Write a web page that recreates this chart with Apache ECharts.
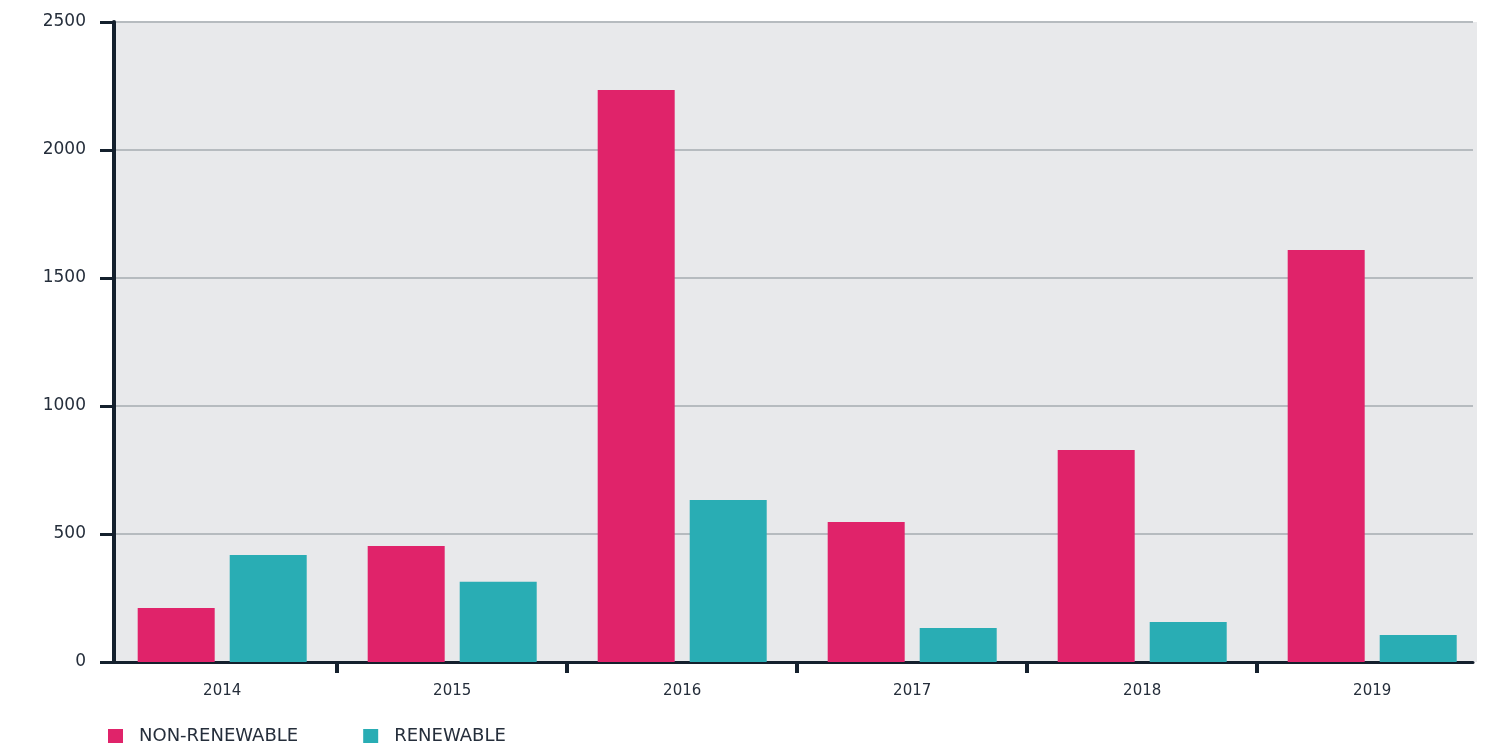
<!DOCTYPE html>
<html>
<head>
<meta charset="utf-8">
<script src="https://cdn.jsdelivr.net/npm/echarts@6/dist/echarts.min.js"></script>
<style>
html,body{margin:0;padding:0;background:#fff;}
#chart{width:1491px;height:749px;}
</style>
</head>
<body>
<div id="chart"></div>
<script>
var years = ['2014', '2015', '2016', '2017', '2018', '2019'];
var nonRenewable = [211, 453, 2234, 547, 828, 1609];
var renewable = [418, 313, 633, 133, 156, 105];
var yMin = 0, yMax = 2500, yStep = 500;
var seriesNames = ['NON-RENEWABLE', 'RENEWABLE'];

var PINK = '#e0236a', TEAL = '#29adb4', DARK = '#14202d', TXT = '#252e3b';
var chart = echarts.init(document.getElementById('chart'));
var nCat = years.length;
var innerBoundaries = [];
for (var i = 1; i < nCat; i++) innerBoundaries.push(i);

chart.setOption({
  animation: false,
  color: [PINK, TEAL],
  textStyle: { fontFamily: 'DejaVu Sans' },
  grid: [
    { left: 116, right: 14, top: 22, bottom: 87, show: true, backgroundColor: '#e8e9eb', borderWidth: 0, z: -1 },
    { left: 114, right: 18, top: 22, bottom: 87, show: false },
    { left: 107.2, right: 3.8, top: 22, bottom: 87, show: false }
  ],
  xAxis: [
    { gridIndex: 0, type: 'value', show: false },
    { gridIndex: 1, type: 'value', min: 0, max: 1,
      axisLine: { show: true, lineStyle: { color: DARK, width: 3 } },
      axisTick: { show: false }, axisLabel: { show: false }, splitLine: { show: false } },
    { gridIndex: 2, type: 'category', data: years,
      axisLine: { show: false },
      axisTick: { show: false },
      axisLabel: { color: TXT, fontSize: 15, margin: 22 },
      splitLine: { show: false } },
    { gridIndex: 2, type: 'value', min: 0, max: nCat, position: 'bottom',
      axisLine: { show: false, onZero: false },
      axisTick: { show: true, length: 11, lineStyle: { color: DARK, width: 4 }, customValues: innerBoundaries },
      axisLabel: { show: false },
      splitLine: { show: false } }
  ],
  yAxis: [
    { gridIndex: 0, type: 'value', show: false },
    { gridIndex: 1, type: 'value', min: yMin, max: yMax, interval: yStep,
      axisLine: { show: true, lineStyle: { color: DARK, width: 4 } },
      axisTick: { show: true, length: 14, lineStyle: { color: DARK, width: 3 } },
      axisLabel: { color: TXT, fontSize: 17, margin: 28, formatter: function (v) { return String(v); } },
      splitLine: { show: true, lineStyle: { color: '#b6bbbf', width: 2 } } },
    { gridIndex: 2, type: 'value', min: yMin, max: yMax, interval: yStep, show: false }
  ],
  legend: {
    left: 108, top: 727, padding: 0, icon: 'rect', itemWidth: 15, itemHeight: 14, itemGap: 65,
    textStyle: { color: TXT, fontSize: 18, padding: [0, 0, 0, 11] },
    data: seriesNames
  },
  series: [
    { name: seriesNames[0], type: 'bar', xAxisIndex: 2, yAxisIndex: 2, data: nonRenewable,
      barWidth: 77, barGap: '19.5%', itemStyle: { color: PINK } },
    { name: seriesNames[1], type: 'bar', xAxisIndex: 2, yAxisIndex: 2, data: renewable,
      barWidth: 77, barGap: '19.5%', itemStyle: { color: TEAL } }
  ]
});
</script>
</body>
</html>
